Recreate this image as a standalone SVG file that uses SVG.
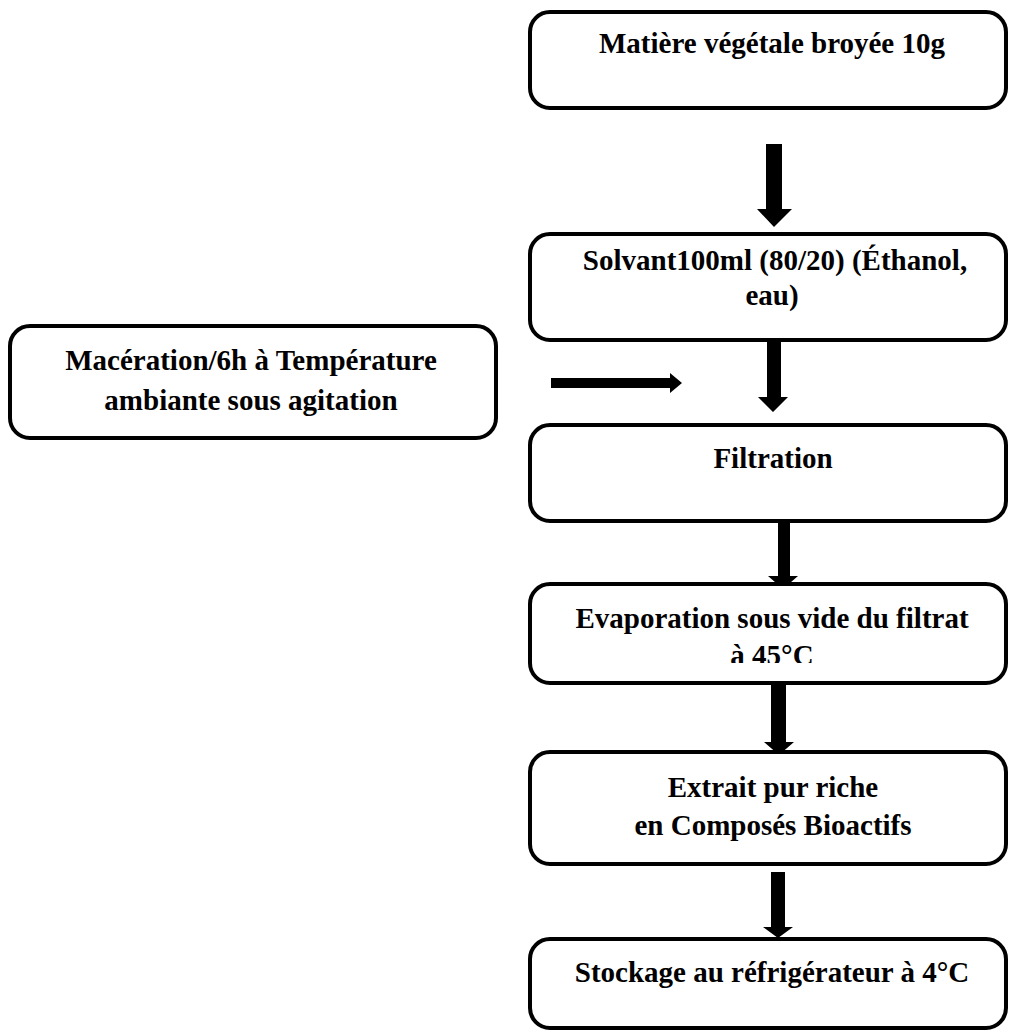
<svg xmlns="http://www.w3.org/2000/svg" width="1009" height="1033" viewBox="0 0 1009 1033">
<style>
.box{fill:#fff;stroke:#000;stroke-width:4}
.t{font-family:"Liberation Serif","Times New Roman",serif;font-weight:bold;font-size:29px;fill:#000;text-anchor:middle}
.arr{fill:#000}
</style>
<defs>
<clipPath id="clip4"><rect x="528" y="584" width="480" height="79"/></clipPath>
</defs>
<rect width="1009" height="1033" fill="#fff"/>
<g id="connectors">
<polygon class="arr" points="766,144 782,144 782,209 792,209 774,227 757,209 766,209"/>
<polygon class="arr" points="767,341 781,341 781,397 788,397 773,412 758,397 767,397"/>
<polygon class="arr" points="551,378 670,378 670,373 682,383 670,393 670,388 551,388"/>
<polygon class="arr" points="778,522 790,522 790,576 798,576 783,589 768,576 778,576"/>
<polygon class="arr" points="771,683 786,683 786,742 794,742 779,755 764,742 771,742"/>
<polygon class="arr" points="771,872 785,872 785,927 793,927 778,938 763,927 771,927"/>
</g>
<g id="node1">
<rect class="box" x="530" y="12" width="476" height="96" rx="20"/>
<text class="t" x="772" y="53">Matière végétale broyée 10g</text>
</g>
<g id="node2">
<rect class="box" x="530" y="234" width="476" height="106" rx="20"/>
<text class="t" x="775" y="270">Solvant100ml (80/20) (Éthanol,</text>
<text class="t" x="772" y="305">eau)</text>
</g>
<g id="node-maceration">
<rect class="box" x="10" y="326" width="486" height="112" rx="20"/>
<text class="t" x="251" y="370">Macération/6h à Température</text>
<text class="t" x="251" y="410">ambiante sous agitation</text>
</g>
<g id="node3">
<rect class="box" x="530" y="425" width="476" height="96" rx="20"/>
<text class="t" x="773" y="468">Filtration</text>
</g>
<g id="node4">
<rect class="box" x="530" y="584" width="476" height="99" rx="20"/>
<text class="t" x="772" y="628">Evaporation sous vide du filtrat</text>
<text class="t" x="772" y="665" clip-path="url(#clip4)">à 45°C</text>
</g>
<g id="node5">
<rect class="box" x="530" y="752" width="476" height="112" rx="20"/>
<text class="t" x="773" y="797">Extrait pur riche</text>
<text class="t" x="773" y="835">en Composés Bioactifs</text>
</g>
<g id="node6">
<rect class="box" x="530" y="939" width="476" height="89" rx="20"/>
<text class="t" x="772" y="982">Stockage au réfrigérateur à 4°C</text>
</g>
</svg>
